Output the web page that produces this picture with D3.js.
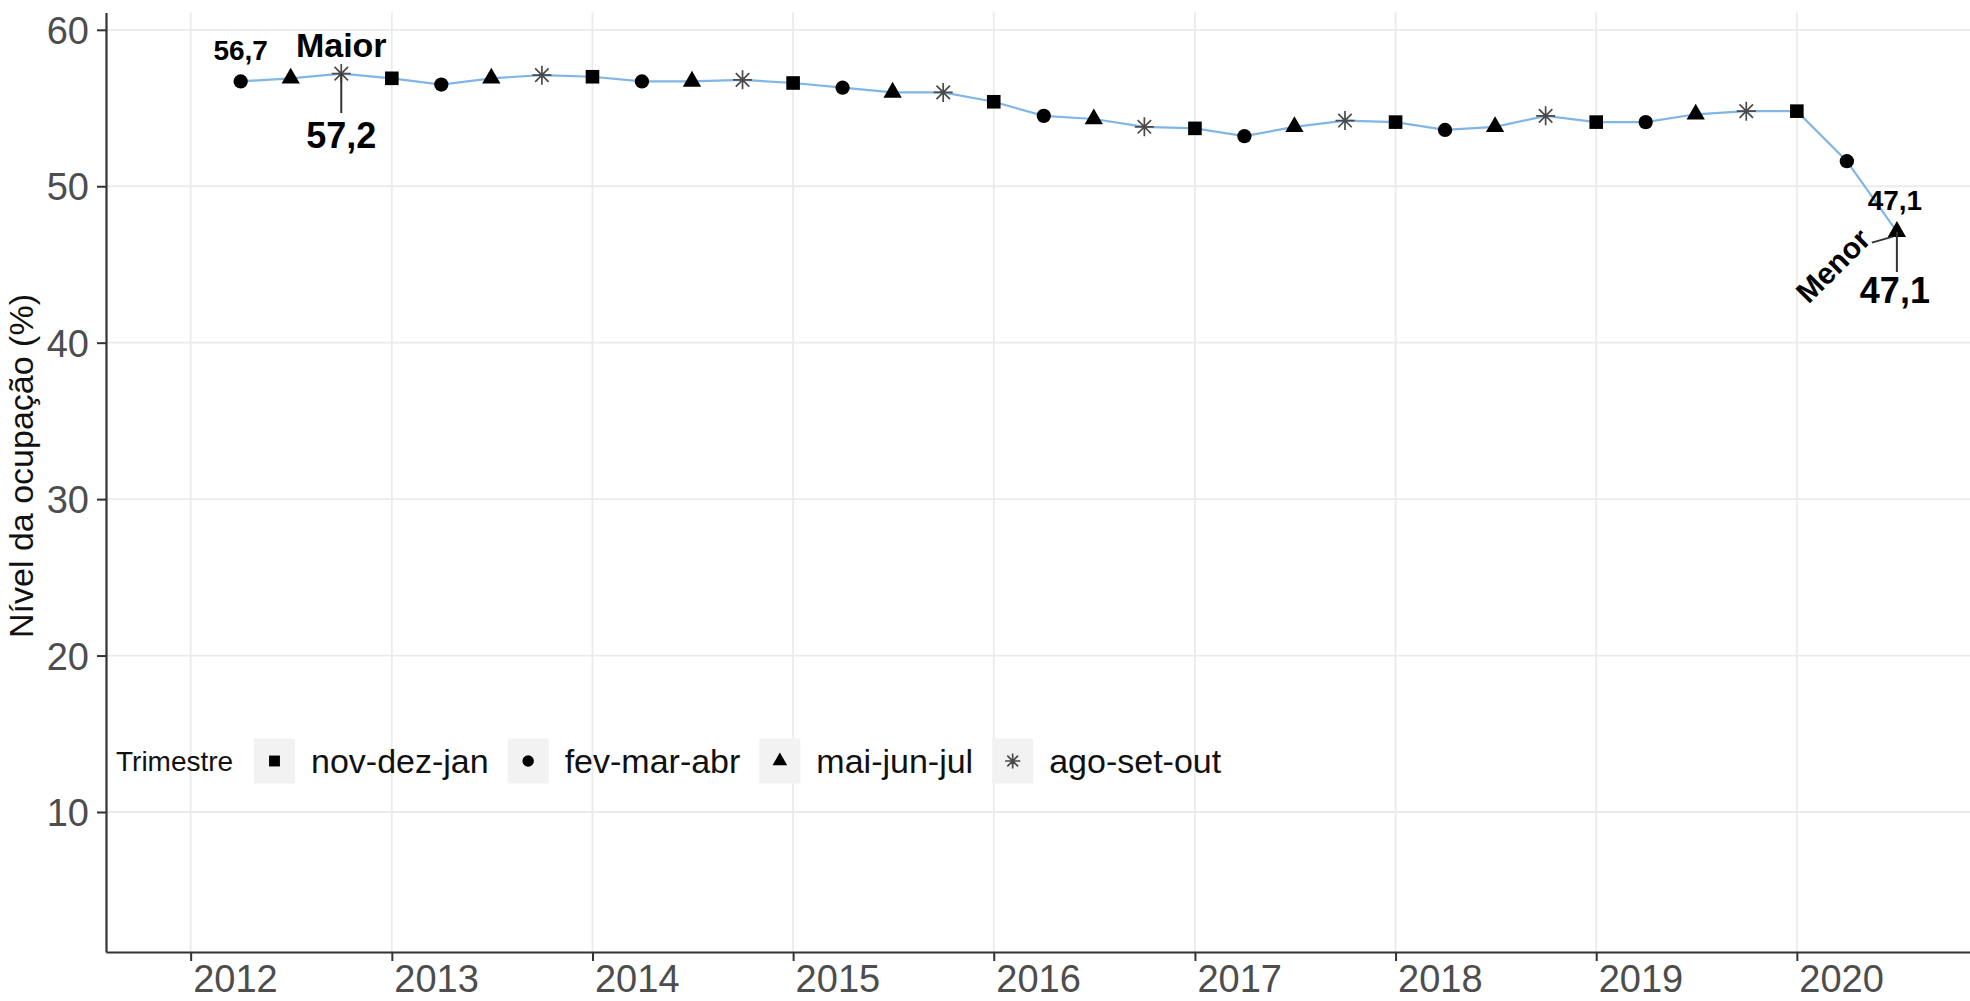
<!DOCTYPE html>
<html><head><meta charset="utf-8">
<script src="https://cdn.jsdelivr.net/npm/d3@7"></script>
<style>
body{margin:0;background:#fff;}
svg{display:block;}
text{font-family:"Liberation Sans",Arial,Helvetica,sans-serif;}
</style>
</head><body>
<svg id="chart" width="1970" height="1001"></svg>
<script>
// ---- data ----
const periodos = [
 "2012-04-01","2012-07-01","2012-10-01",
 "2013-01-01","2013-04-01","2013-07-01","2013-10-01",
 "2014-01-01","2014-04-01","2014-07-01","2014-10-01",
 "2015-01-01","2015-04-01","2015-07-01","2015-10-01",
 "2016-01-01","2016-04-01","2016-07-01","2016-10-01",
 "2017-01-01","2017-04-01","2017-07-01","2017-10-01",
 "2018-01-01","2018-04-01","2018-07-01","2018-10-01",
 "2019-01-01","2019-04-01","2019-07-01","2019-10-01",
 "2020-01-01","2020-04-01","2020-07-01"
];
const trimestres = [
 "fev-mar-abr","mai-jun-jul","ago-set-out",
 "nov-dez-jan","fev-mar-abr","mai-jun-jul","ago-set-out",
 "nov-dez-jan","fev-mar-abr","mai-jun-jul","ago-set-out",
 "nov-dez-jan","fev-mar-abr","mai-jun-jul","ago-set-out",
 "nov-dez-jan","fev-mar-abr","mai-jun-jul","ago-set-out",
 "nov-dez-jan","fev-mar-abr","mai-jun-jul","ago-set-out",
 "nov-dez-jan","fev-mar-abr","mai-jun-jul","ago-set-out",
 "nov-dez-jan","fev-mar-abr","mai-jun-jul","ago-set-out",
 "nov-dez-jan","fev-mar-abr","mai-jun-jul"
];
const nivelOcupacao = [
 56.7, 56.9, 57.2,
 56.9, 56.5, 56.9, 57.1,
 57.0, 56.7, 56.7, 56.8,
 56.6, 56.3, 56.0, 56.0,
 55.4, 54.5, 54.3, 53.8,
 53.7, 53.2, 53.8, 54.2,
 54.1, 53.6, 53.8, 54.5,
 54.1, 54.1, 54.6, 54.8,
 54.8, 51.6, 47.1
];
const legendaTrimestres = ["nov-dez-jan","fev-mar-abr","mai-jun-jul","ago-set-out"];
const anosTicks = [2012,2013,2014,2015,2016,2017,2018,2019,2020];
const yTicks = [10,20,30,40,50,60];

// ---- scales ----
const parse = d3.timeParse("%Y-%m-%d");
const data = periodos.map((p,i)=>({date:parse(p), tri:trimestres[i], v:nivelOcupacao[i]}));

const x = d3.scaleTime()
  .domain([new Date(2011,6,31), new Date(2020,10,11)])
  .range([106, 1970]);
const y = d3.scaleLinear().domain([1.05, 61.1]).range([952, 12.6]);

const svg = d3.select("#chart");
const INK = "#333333";

// grid
svg.append("g").selectAll("line").data(yTicks).join("line")
  .attr("x1",106).attr("x2",1970)
  .attr("y1",d=>y(d)).attr("y2",d=>y(d))
  .attr("stroke","#ebebeb").attr("stroke-width",1.8);
svg.append("g").selectAll("line").data(anosTicks).join("line")
  .attr("x1",d=>x(new Date(d,0,1))).attr("x2",d=>x(new Date(d,0,1)))
  .attr("y1",12.6).attr("y2",952)
  .attr("stroke","#ebebeb").attr("stroke-width",1.8);

// axes
const yAxis = svg.append("g").attr("transform","translate(106,0)")
  .call(d3.axisLeft(y).tickValues(yTicks).tickSize(9).tickSizeOuter(0).tickPadding(8).tickFormat(d3.format("d")));
yAxis.select(".domain").attr("stroke",INK).attr("stroke-width",2.2);
yAxis.selectAll(".tick line").attr("stroke",INK).attr("stroke-width",2);
yAxis.selectAll(".tick text").attr("fill","#4d4d4d").style("font-size","38px")
  .attr("dy","0.36em");

const xAxis = svg.append("g").attr("transform","translate(0,952)")
  .call(d3.axisBottom(x).tickValues(anosTicks.map(a=>new Date(a,0,1))).tickSize(9).tickSizeOuter(0).tickFormat(d3.timeFormat("%Y")));
xAxis.select(".domain").attr("stroke",INK).attr("stroke-width",2.2);
xAxis.selectAll(".tick line").attr("stroke",INK).attr("stroke-width",2);
xAxis.selectAll(".tick text").attr("fill","#4d4d4d").style("font-size","38px")
  .attr("text-anchor","start").attr("x",2).attr("y",40).attr("dy",0);

// axis title
svg.append("text")
  .attr("transform","translate(33,466) rotate(-90)")
  .attr("text-anchor","middle")
  .style("font-size","34px").attr("fill","#111")
  .text("Nível da ocupação (%)");

// line
svg.append("path").datum(data)
  .attr("d", d3.line().x(d=>x(d.date)).y(d=>y(d.v)))
  .attr("fill","none").attr("stroke","#80b6e6").attr("stroke-width",2.2);

// markers
const asteriskPath = r => {
  let p = "";
  for (let k=0;k<4;k++){
    const a = k*Math.PI/4;
    const dx = r*Math.cos(a), dy = r*Math.sin(a);
    p += `M${-dx},${-dy}L${dx},${dy}`;
  }
  return p;
};
function drawMarker(g, tri, scale){
  scale = scale||1;
  if (tri==="nov-dez-jan") {
    g.append("path").attr("d", d3.symbol(d3.symbolSquare, 185*scale*scale)()).attr("fill","#000");
  } else if (tri==="fev-mar-abr") {
    g.append("path").attr("d", d3.symbol(d3.symbolCircle, 160*scale*scale)()).attr("fill","#000");
  } else if (tri==="mai-jun-jul") {
    g.append("path").attr("d", d3.symbol(d3.symbolTriangle, 145*scale*scale)()).attr("fill","#000");
  } else {
    g.append("path").attr("d", asteriskPath(9.5*scale)).attr("stroke","#4a4a4a").attr("stroke-width",1.7).attr("fill","none");
  }
}
svg.append("g").selectAll("g").data(data).join("g")
  .attr("transform",d=>`translate(${x(d.date)},${y(d.v)})`)
  .each(function(d){ drawMarker(d3.select(this), d.tri); });

// annotations
const first = data[0];
const maxD = data.reduce((a,b)=>b.v>a.v?b:a);
const minD = data.reduce((a,b)=>b.v<a.v?b:a);
const fmt = v => d3.format(".1f")(v).replace(".",",");
const bold = (t, px, xx, yy, anchor) => svg.append("text").attr("x",xx).attr("y",yy)
  .attr("text-anchor",anchor||"middle").style("font-size",px+"px").style("font-weight","bold").attr("fill","#000").text(t);

bold(fmt(first.v), 28, x(first.date), 60);
// max
bold("Maior", 34, x(maxD.date), 57);
svg.append("line").attr("x1",x(maxD.date)).attr("x2",x(maxD.date))
  .attr("y1",y(maxD.v)).attr("y2",113).attr("stroke",INK).attr("stroke-width",2);
bold(fmt(maxD.v), 36, x(maxD.date), 148);
// min
bold(fmt(minD.v), 28, x(minD.date)-2, 210);
svg.append("line").attr("x1",x(minD.date)).attr("x2",x(minD.date))
  .attr("y1",y(minD.v)).attr("y2",272).attr("stroke",INK).attr("stroke-width",2);
svg.append("line").attr("x1",x(minD.date)-25).attr("x2",x(minD.date)-4)
  .attr("y1",y(minD.v)+11).attr("y2",y(minD.v)+5).attr("stroke",INK).attr("stroke-width",2);
bold(fmt(minD.v), 36, x(minD.date)-2, 303);
svg.append("text").attr("transform",`translate(${x(minD.date)-64},${y(minD.v)+34}) rotate(-45)`)
  .attr("text-anchor","middle").attr("dy","0.35em")
  .style("font-size","30px").style("font-weight","bold").attr("fill","#000").text("Menor");

// legend
const lg = svg.append("g").attr("transform","translate(0,761)");
lg.append("text").attr("x",116).attr("y",0).attr("dy","0.35em").style("font-size","28px").attr("fill","#111").text("Trimestre");
let cx = 254;
legendaTrimestres.forEach(t=>{
  lg.append("rect").attr("x",cx).attr("y",-22.5).attr("width",41).attr("height",45).attr("fill","#f2f2f2");
  const g = lg.append("g").attr("transform",`translate(${cx+20.5},0)`);
  drawMarker(g, t, 0.8);
  const tx = lg.append("text").attr("x",cx+57).attr("y",0).attr("dy","0.35em")
    .style("font-size","34px").attr("fill","#111").text(t);
  cx = cx + 57 + tx.node().getComputedTextLength() + 19;
});
</script>
</body></html>
